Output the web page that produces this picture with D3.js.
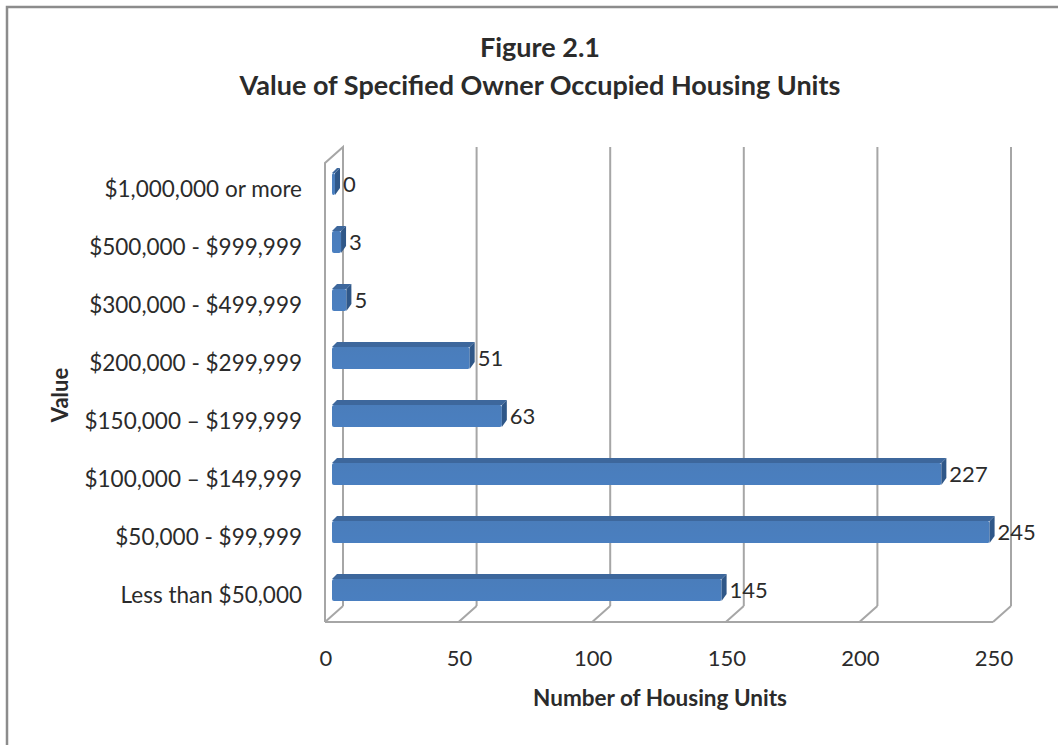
<!DOCTYPE html>
<html>
<head>
<meta charset="utf-8">
<script src="https://cdn.jsdelivr.net/npm/d3@7/dist/d3.min.js"></script>
<style>
  html, body { margin: 0; padding: 0; background: #fff; }
  svg { display: block; }
  text { font-family: Lato, "Open Sans", sans-serif; fill: #2b2b2b; }
</style>
</head>
<body>
<svg id="chart" width="1058" height="745"></svg>
<script>
const titleLines = ["Figure 2.1", "Value of Specified Owner Occupied Housing Units"];
const categories = ["Less than $50,000", "$50,000 - $99,999", "$100,000 \u2013 $149,999", "$150,000 \u2013 $199,999",
  "$200,000  - $299,999", "$300,000  - $499,999", "$500,000 - $999,999", "$1,000,000 or more"];
const values = [145, 245, 227, 63, 51, 5, 3, 0];
const xTicks = [0, 50, 100, 150, 200, 250];
const xAxisTitle = "Number of Housing Units";
const yAxisTitle = "Value";

const svg = d3.select("#chart");
const W = 1058, H = 745;

// frame
svg.append("path").attr("d", `M7,${H} L7,7 L${W},7`).attr("fill", "none")
  .attr("stroke", "#8c8c8c").attr("stroke-width", 2.5);

// 3D geometry
const frontLeft = 325, frontBottom = 622, frontTop = 163;
const depthX = 18, depthY = -16;
const xFront = d3.scaleLinear().domain([0, 250]).range([frontLeft, frontLeft + 668]);
const xBack = d3.scaleLinear().domain([0, 250]).range([frontLeft + depthX, frontLeft + depthX + 668]);
const xBar = d3.scaleLinear().domain([0, 250]).range([frontLeft + 8, frontLeft + 8 + 670]);

const y = d3.scaleBand().domain(categories.slice().reverse()).range([154, 618]).padding(0);

const gridColor = "#a6a6a6";
// left wall
svg.append("path")
  .attr("d", `M${frontLeft},${frontBottom} L${frontLeft},${frontTop} L${frontLeft + depthX},${frontTop + depthY} L${frontLeft + depthX},${frontBottom + depthY}`)
  .attr("fill", "none").attr("stroke", gridColor).attr("stroke-width", 2);
// floor front edge
svg.append("line").attr("x1", xFront(0)).attr("x2", xFront(250)).attr("y1", frontBottom).attr("y2", frontBottom)
  .attr("stroke", gridColor).attr("stroke-width", 2);
// back gridlines + floor diagonals
xTicks.forEach(t => {
  svg.append("line").attr("x1", xBack(t)).attr("x2", xBack(t))
    .attr("y1", frontTop + depthY).attr("y2", frontBottom + depthY)
    .attr("stroke", gridColor).attr("stroke-width", 2);
  svg.append("line").attr("x1", xFront(t)).attr("x2", xBack(t))
    .attr("y1", frontBottom).attr("y2", frontBottom + depthY)
    .attr("stroke", gridColor).attr("stroke-width", 2);
});

// gradient
const defs = svg.append("defs");
const g1 = defs.append("linearGradient").attr("id", "barFront").attr("x1", 0).attr("y1", 0).attr("x2", 0).attr("y2", 1);
g1.append("stop").attr("offset", "0%").attr("stop-color", "#4a7dbb");
g1.append("stop").attr("offset", "100%").attr("stop-color", "#4a7fc0");

// bars
const bh = 22, bd = 5;
const bars = svg.append("g");
categories.forEach((c, i) => {
  const v = values[i];
  const cy = y(c) + y.bandwidth() / 2;
  const x0 = xBar(0) - 1, x1 = Math.max(xBar(v), x0 + 3);
  const top = cy - bh / 2 + 1, bot = cy + bh / 2 + 1;
  // top face
  bars.append("path").attr("d", `M${x0},${top} L${x0 + bd},${top - bd} L${x1 + bd},${top - bd} L${x1},${top} Z`)
    .attr("fill", "#3d679c");
  // front face
  bars.append("rect").attr("x", x0).attr("y", top).attr("width", x1 - x0).attr("height", bh)
    .attr("fill", "url(#barFront)").attr("rx", 2);
  // right face
  bars.append("path").attr("d", `M${x1},${top} L${x1 + bd},${top - bd} L${x1 + bd},${bot - bd - 2} L${x1},${bot} Z`)
    .attr("fill", "#2f5788");
  // value label
  svg.append("text").attr("x", x1 + bd + 3).attr("y", cy + 3).attr("dominant-baseline", "middle")
    .attr("font-size", 22).text(v);
});

// category labels
categories.forEach(c => {
  svg.append("text").attr("x", 302).attr("y", y(c) + y.bandwidth() / 2 + 8)
    .attr("text-anchor", "end").attr("dominant-baseline", "middle")
    .attr("font-size", 22.5).text(c);
});

// x tick labels
xTicks.forEach(t => {
  svg.append("text").attr("x", xFront(t) + 1).attr("y", 660).attr("text-anchor", "middle")
    .attr("dominant-baseline", "middle").attr("font-size", 22).text(t);
});

// axis titles
svg.append("text").attr("x", 660).attr("y", 700).attr("text-anchor", "middle").attr("dominant-baseline", "middle")
  .attr("font-size", 22.5).attr("font-weight", "bold").text(xAxisTitle);
svg.append("text").attr("transform", "translate(62,395) rotate(-90)").attr("text-anchor", "middle")
  .attr("dominant-baseline", "middle").attr("font-size", 22).attr("font-weight", "bold").text(yAxisTitle);

// title
svg.append("text").attr("x", 540).attr("y", 50).attr("text-anchor", "middle").attr("dominant-baseline", "middle")
  .attr("font-size", 27).attr("font-weight", "bold").text(titleLines[0]);
svg.append("text").attr("x", 540).attr("y", 88).attr("text-anchor", "middle").attr("dominant-baseline", "middle")
  .attr("font-size", 27).attr("font-weight", "bold").text(titleLines[1]);
</script>
</body>
</html>
